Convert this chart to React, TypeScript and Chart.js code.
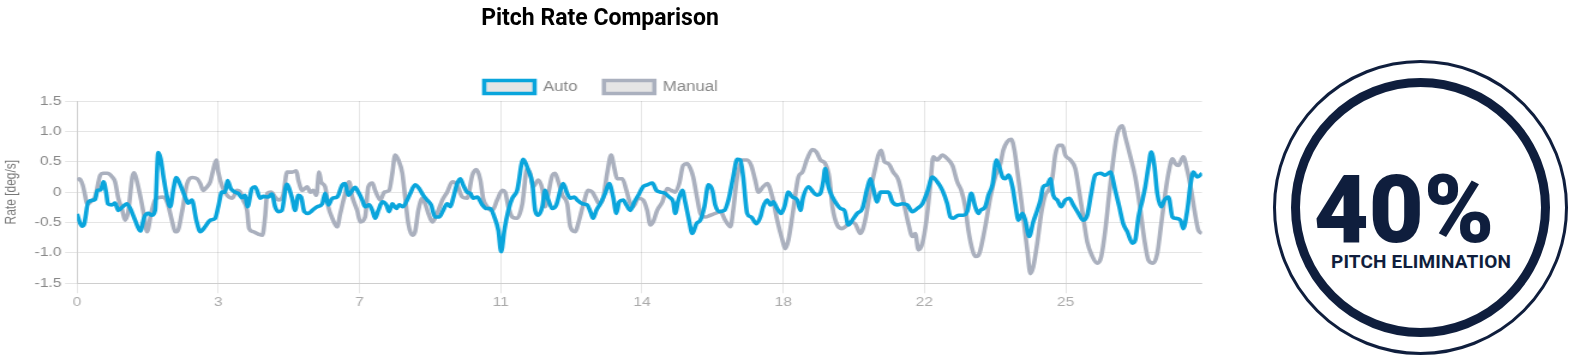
import React, { useEffect, useRef } from 'react';
import { Chart, registerables } from 'chart.js';

Chart.register(...registerables);

const CHART_TITLE = 'Pitch Rate Comparison';
const SERIES_NAMES = ['Auto', 'Manual'];
const Y_TITLE = 'Rate [deg/s]';
const BADGE_VALUE = '40%';
const BADGE_LABEL = 'PITCH ELIMINATION';

const X_MAX = 28.12;
const X_TICK_POS = [0, 3.53, 7.06, 10.59, 14.12, 17.65, 21.18, 24.71];
const X_TICK_LABELS = ['0', '3', '7', '11', '14', '18', '22', '25'];
const Y_TICK_VALUES = [-1.5, -1, -0.5, 0, 0.5, 1, 1.5];
const Y_TICK_LABELS = ['-1.5', '-1.0', '-0.5', '0', '0.5', '1.0', '1.5'];

const AUTO_T = [
  0, 0.12, 0.18, 0.28, 0.45, 0.51, 0.59, 0.66, 0.73, 0.77, 0.87, 0.95, 1.03, 1.14, 1.24, 1.33, 1.45, 1.58, 1.68, 1.78,
  1.87, 1.95, 2.03, 2.09, 2.16, 2.24, 2.33, 2.41, 2.48, 2.58, 2.7, 2.78, 2.87, 2.98, 3.08, 3.2, 3.33, 3.45, 3.53, 3.62,
  3.7, 3.76, 3.84, 3.95, 4.03, 4.12, 4.2, 4.26, 4.37, 4.45, 4.58, 4.66, 4.78, 4.87, 4.95, 5.03, 5.12, 5.24, 5.37, 5.45,
  5.53, 5.6, 5.68, 5.78, 5.88, 6.0, 6.13, 6.2, 6.28, 6.38, 6.5, 6.63, 6.7, 6.78, 6.88, 6.95, 7.03, 7.13, 7.2, 7.3,
  7.38, 7.45, 7.53, 7.63, 7.73, 7.8, 7.88, 7.98, 8.05, 8.15, 8.25, 8.33, 8.45, 8.55, 8.65, 8.75, 8.85, 8.95, 9.05, 9.15,
  9.25, 9.33, 9.4, 9.5, 9.58, 9.65, 9.75, 9.83, 9.9, 10.0, 10.13, 10.23, 10.33, 10.43, 10.53, 10.6, 10.68, 10.78, 10.88, 11.0,
  11.15, 11.28, 11.38, 11.45, 11.53, 11.63, 11.7, 11.78, 11.88, 11.98, 12.08, 12.15, 12.25, 12.33, 12.43, 12.5, 12.63, 12.75, 12.83, 12.9,
  12.98, 13.08, 13.2, 13.3, 13.4, 13.48, 13.55, 13.65, 13.73, 13.83, 13.93, 14.03, 14.15, 14.25, 14.38, 14.48, 14.58, 14.7, 14.8, 14.9,
  14.95, 15.03, 15.13, 15.2, 15.28, 15.38, 15.48, 15.58, 15.68, 15.78, 15.88, 15.95, 16.05, 16.18, 16.28, 16.4, 16.5, 16.58, 16.65, 16.75,
  16.85, 16.98, 17.08, 17.15, 17.25, 17.33, 17.4, 17.5, 17.6, 17.68, 17.78, 17.88, 18.0, 18.08, 18.15, 18.28, 18.4, 18.5, 18.58, 18.65,
  18.7, 18.78, 18.88, 18.98, 19.08, 19.18, 19.28, 19.38, 19.5, 19.63, 19.75, 19.83, 19.9, 20.0, 20.08, 20.18, 20.28, 20.38, 20.5, 20.63,
  20.75, 20.88, 21.0, 21.13, 21.25, 21.38, 21.5, 21.63, 21.75, 21.83, 21.9, 22.03, 22.15, 22.25, 22.35, 22.45, 22.53, 22.58, 22.7, 22.78,
  22.88, 22.98, 23.05, 23.13, 23.2, 23.28, 23.38, 23.45, 23.53, 23.63, 23.7, 23.8, 23.9, 24.0, 24.08, 24.15, 24.25, 24.33, 24.4, 24.5,
  24.6, 24.7, 24.8, 24.9, 25.03, 25.15, 25.25, 25.35, 25.45, 25.58, 25.7, 25.83, 25.95, 26.05, 26.15, 26.25, 26.38, 26.45, 26.53, 26.63,
  26.7, 26.78, 26.85, 26.93, 27.0, 27.1, 27.18, 27.28, 27.38, 27.45, 27.58, 27.65, 27.75, 27.83, 27.9, 28.0, 28.12,
];
const AUTO_V = [
  -0.36, -0.56, -0.52, -0.16, -0.12, 0.03, 0.04, 0.17, -0.02, -0.19, -0.21, -0.18, -0.3, -0.24, -0.19, -0.27, -0.46, -0.64, -0.41, -0.35,
  -0.38, -0.3, 0.65, 0.55, 0.25, -0.05, -0.24, 0.06, 0.24, 0.12, -0.08, -0.18, -0.13, -0.46, -0.65, -0.57, -0.46, -0.43, -0.24, 0.0,
  0.0, 0.19, 0.06, 0.0, -0.02, -0.09, -0.05, -0.24, 0.06, 0.09, -0.1, -0.07, -0.08, -0.03, -0.24, -0.32, -0.3, 0.13, -0.09, -0.3,
  -0.05, -0.08, -0.32, -0.35, -0.3, -0.24, -0.19, -0.02, -0.21, -0.1, -0.08, 0.12, 0.14, -0.05, 0.03, 0.08, 0.0, -0.13, -0.24, -0.21,
  -0.3, -0.43, -0.3, -0.16, -0.21, -0.32, -0.19, -0.27, -0.21, -0.24, -0.13, -0.02, 0.12, 0.06, -0.05, -0.13, -0.21, -0.41, -0.41, -0.3,
  -0.19, -0.24, -0.1, 0.14, 0.22, 0.12, 0.0, -0.02, -0.1, -0.08, -0.21, -0.27, -0.27, -0.41, -0.63, -0.98, -0.63, -0.3, -0.1, 0.03,
  0.54, 0.36, 0.14, -0.3, -0.38, -0.24, 0.03, -0.13, -0.27, -0.21, 0.03, 0.14, -0.02, -0.1, -0.08, -0.13, -0.19, -0.21, -0.32, -0.43,
  -0.3, -0.19, -0.02, 0.14, -0.08, -0.35, -0.16, -0.13, -0.21, -0.3, -0.16, -0.05, 0.09, 0.12, 0.15, 0.03, 0.0, -0.02, -0.08, -0.16,
  -0.35, -0.13, 0.03, -0.16, -0.41, -0.68, -0.52, -0.46, -0.24, 0.12, 0.03, -0.21, -0.32, -0.3, -0.13, 0.25, 0.54, 0.53, 0.25, -0.35,
  -0.41, -0.52, -0.41, -0.24, -0.13, -0.21, -0.16, -0.27, -0.35, -0.24, 0.0, -0.08, -0.13, -0.3, -0.08, 0.09, 0.0, -0.05, -0.02, 0.17,
  0.39, 0.09, -0.08, -0.19, -0.27, -0.3, -0.54, -0.46, -0.35, -0.27, 0.06, 0.22, 0.06, -0.16, 0.0, 0.0, 0.0, -0.16, -0.21, -0.19,
  -0.21, -0.32, -0.27, -0.19, 0.0, 0.25, 0.17, 0.03, -0.19, -0.41, -0.43, -0.38, -0.38, -0.32, -0.02, -0.24, -0.35, -0.3, -0.24, -0.05,
  0.12, 0.53, 0.42, 0.25, 0.22, 0.28, 0.09, -0.19, -0.46, -0.35, -0.46, -0.73, -0.49, -0.3, -0.13, 0.09, 0.12, 0.22, -0.05, -0.13,
  -0.24, -0.13, -0.1, -0.21, -0.35, -0.46, -0.38, -0.02, 0.28, 0.31, 0.28, 0.33, 0.03, -0.24, -0.52, -0.65, -0.84, -0.79, -0.41, -0.13,
  0.09, 0.42, 0.66, 0.42, -0.02, -0.24, -0.13, -0.08, -0.41, -0.43, -0.46, -0.6, -0.3, 0.12, 0.33, 0.25, 0.31,
];

const MANUAL_T = [
  0, 0.06, 0.14, 0.2, 0.25, 0.35, 0.45, 0.58, 0.65, 0.75, 0.88, 0.95, 1.03, 1.13, 1.2, 1.28, 1.38, 1.43, 1.5, 1.6,
  1.68, 1.75, 1.85, 1.95, 2.03, 2.15, 2.25, 2.38, 2.45, 2.5, 2.63, 2.75, 2.88, 3.0, 3.08, 3.15, 3.25, 3.33, 3.4, 3.48,
  3.53, 3.63, 3.75, 3.88, 4.0, 4.08, 4.15, 4.25, 4.3, 4.4, 4.53, 4.63, 4.7, 4.75, 4.85, 4.95, 5.03, 5.15, 5.25, 5.38,
  5.48, 5.53, 5.63, 5.75, 5.83, 5.9, 5.98, 6.05, 6.1, 6.2, 6.28, 6.38, 6.5, 6.58, 6.68, 6.8, 6.88, 7.0, 7.08, 7.2,
  7.28, 7.38, 7.45, 7.58, 7.68, 7.8, 7.88, 7.95, 8.03, 8.13, 8.2, 8.28, 8.38, 8.45, 8.53, 8.63, 8.7, 8.78, 8.88, 9.0,
  9.13, 9.25, 9.38, 9.5, 9.63, 9.75, 9.88, 9.98, 10.08, 10.15, 10.25, 10.38, 10.5, 10.63, 10.7, 10.78, 10.88, 11.0, 11.13, 11.25,
  11.33, 11.4, 11.53, 11.63, 11.7, 11.78, 11.88, 11.95, 12.03, 12.13, 12.25, 12.33, 12.45, 12.55, 12.65, 12.78, 12.88, 12.95, 13.05, 13.15,
  13.25, 13.35, 13.43, 13.5, 13.63, 13.73, 13.83, 13.9, 14.03, 14.15, 14.25, 14.33, 14.4, 14.5, 14.63, 14.75, 14.85, 14.95, 15.05, 15.15,
  15.25, 15.33, 15.4, 15.5, 15.58, 15.7, 15.83, 15.95, 16.08, 16.2, 16.33, 16.4, 16.5, 16.63, 16.75, 16.85, 16.95, 17.03, 17.15, 17.25,
  17.38, 17.5, 17.63, 17.7, 17.78, 17.9, 18.03, 18.13, 18.25, 18.38, 18.48, 18.58, 18.7, 18.8, 18.88, 19.0, 19.13, 19.2, 19.33, 19.45,
  19.58, 19.7, 19.83, 19.95, 20.03, 20.1, 20.18, 20.28, 20.4, 20.53, 20.65, 20.78, 20.88, 20.95, 21.03, 21.13, 21.23, 21.33, 21.4, 21.5,
  21.63, 21.75, 21.88, 22.0, 22.1, 22.2, 22.28, 22.38, 22.45, 22.53, 22.58, 22.7, 22.83, 22.95, 23.08, 23.15, 23.25, 23.35, 23.43, 23.5,
  23.6, 23.68, 23.75, 23.83, 23.9, 24.0, 24.1, 24.2, 24.28, 24.38, 24.45, 24.53, 24.63, 24.7, 24.83, 24.95, 25.03, 25.15, 25.25, 25.38,
  25.5, 25.6, 25.7, 25.8, 25.9, 26.0, 26.13, 26.2, 26.33, 26.45, 26.58, 26.68, 26.78, 26.9, 27.0, 27.1, 27.2, 27.28, 27.38, 27.45,
  27.53, 27.65, 27.75, 27.85, 27.93, 28.03, 28.12,
];
const MANUAL_V = [
  0.2, 0.22, 0.12, -0.05, -0.2, -0.15, -0.08, 0.28, 0.31, 0.31, 0.25, 0.17, -0.1, -0.3, -0.46, -0.32, 0.25, 0.32, 0.17, -0.13,
  -0.41, -0.65, -0.35, -0.13, -0.09, -0.08, -0.16, -0.49, -0.65, -0.65, -0.3, 0.14, 0.24, 0.22, 0.14, 0.03, 0.09, 0.17, 0.36, 0.53,
  0.33, 0.09, -0.05, -0.1, 0.03, 0.0, -0.13, -0.3, -0.6, -0.65, -0.69, -0.71, -0.41, -0.02, 0.0, -0.08, -0.13, -0.05, 0.33, 0.33,
  0.35, 0.2, 0.03, 0.09, 0.0, 0.03, -0.05, 0.33, 0.17, 0.09, -0.24, -0.43, -0.57, -0.35, -0.08, 0.17, -0.08, -0.3, -0.49, -0.41,
  0.09, 0.15, 0.03, -0.13, 0.0, 0.03, 0.31, 0.61, 0.53, 0.31, -0.08, -0.52, -0.71, -0.65, -0.3, -0.1, -0.19, -0.35, -0.49, -0.35,
  -0.13, 0.0, 0.17, 0.12, -0.08, -0.1, 0.28, 0.37, 0.2, -0.1, -0.24, -0.3, -0.13, 0.03, 0.0, -0.24, -0.41, -0.43, -0.19, 0.39,
  0.3, 0.09, 0.2, 0.05, -0.24, -0.02, 0.28, 0.31, 0.17, -0.05, -0.19, -0.57, -0.65, -0.46, -0.21, 0.03, 0.0, -0.08, -0.19, -0.1,
  0.31, 0.61, 0.39, 0.22, 0.22, 0.03, -0.19, -0.24, -0.1, -0.13, -0.3, -0.54, -0.49, -0.3, -0.16, 0.06, 0.03, 0.0, 0.14, 0.44,
  0.47, 0.39, 0.25, -0.1, -0.35, -0.41, -0.38, -0.35, -0.32, -0.46, -0.57, -0.3, 0.25, 0.53, 0.53, 0.44, 0.2, 0.0, 0.09, 0.14,
  -0.08, -0.46, -0.79, -0.93, -0.79, -0.3, 0.25, 0.33, 0.55, 0.7, 0.66, 0.53, 0.47, 0.25, -0.24, -0.54, -0.6, -0.57, -0.49, -0.52,
  -0.68, -0.46, 0.03, 0.39, 0.61, 0.69, 0.5, 0.47, 0.33, 0.2, -0.13, -0.52, -0.73, -0.68, -0.95, -0.84, -0.46, 0.14, 0.58, 0.53,
  0.61, 0.55, 0.44, 0.17, 0.03, -0.24, -0.63, -0.95, -1.06, -1.04, -0.95, -0.57, -0.08, 0.25, 0.47, 0.69, 0.83, 0.87, 0.69, 0.36,
  -0.13, -0.57, -0.95, -1.34, -1.23, -0.84, -0.35, -0.05, 0.03, 0.25, 0.61, 0.77, 0.77, 0.61, 0.53, 0.39, 0.09, -0.41, -0.82, -1.06,
  -1.17, -1.06, -0.63, -0.02, 0.53, 0.96, 1.09, 0.91, 0.58, 0.25, -0.3, -0.79, -1.12, -1.17, -1.01, -0.52, -0.02, 0.31, 0.55, 0.47,
  0.44, 0.58, 0.36, 0.03, -0.3, -0.63, -0.68,
];

const SX = 1.2;
const W0 = 1003;
const H0 = 330;
const FONT = "'Liberation Sans', Arial, Helvetica, sans-serif";
const NAVY = '#0f1e3d';

function toPoints(t: number[], v: number[]) {
  return t.map((x, i) => ({ x, y: v[i] }));
}

function PitchChart() {
  const ref = useRef<HTMLCanvasElement | null>(null);
  useEffect(() => {
    if (!ref.current) return;
    const chart = new Chart(ref.current, {
      type: 'line',
      data: {
        datasets: [
          {
            label: SERIES_NAMES[0],
            data: toPoints(AUTO_T, AUTO_V),
            borderColor: '#0aa5dc',
            backgroundColor: 'rgba(0,0,0,0.1)',
            borderWidth: 3.6,
            pointRadius: 0,
            fill: false,
            cubicInterpolationMode: 'monotone',
          },
          {
            label: SERIES_NAMES[1],
            data: toPoints(MANUAL_T, MANUAL_V),
            borderColor: '#aab0be',
            backgroundColor: 'rgba(0,0,0,0.1)',
            borderWidth: 3.6,
            pointRadius: 0,
            fill: false,
            cubicInterpolationMode: 'monotone',
          },
        ],
      },
      options: {
        responsive: false,
        animation: false,
        devicePixelRatio: 1,
        layout: { padding: { top: 58, right: 1.3, bottom: 16.7, left: 0 } },
        plugins: {
          legend: {
            display: true,
            position: 'top',
            maxHeight: 43,
            labels: {
              boxWidth: 42,
              boxHeight: 13,
              padding: 22,
              color: '#888',
              font: { size: 14, family: FONT },
            },
          },
          title: { display: false },
          tooltip: { enabled: false },
        },
        scales: {
          x: {
            type: 'linear',
            min: 0,
            max: X_MAX,
            afterBuildTicks: (axis: any) => {
              axis.ticks = X_TICK_POS.map((v) => ({ value: v }));
            },
            afterFit: (axis: any) => {
              axis.height = 30;
            },
            ticks: {
              autoSkip: false,
              maxRotation: 0,
              padding: 1,
              color: '#aaa',
              font: { size: 13, family: FONT },
              callback: (_v: any, i: number) => X_TICK_LABELS[i],
            },
            grid: { color: 'rgba(0,0,0,0.1)', tickLength: 10 },
            border: { color: 'rgba(0,0,0,0.1)' },
          },
          y: {
            min: -1.5,
            max: 1.5,
            afterBuildTicks: (axis: any) => {
              axis.ticks = Y_TICK_VALUES.map((v) => ({ value: v }));
            },
            afterFit: (axis: any) => {
              axis.width = 64.2;
            },
            ticks: {
              padding: 3,
              color: '#888',
              font: { size: 13, family: FONT },
              callback: (_v: any, i: number) => Y_TICK_LABELS[i],
            },
            grid: { color: 'rgba(0,0,0,0.1)', tickLength: 10 },
            border: { color: 'rgba(0,0,0,0.1)' },
            title: {
              display: true,
              text: Y_TITLE,
              color: '#777',
              font: { size: 12, family: FONT },
              padding: { top: 2, bottom: 1 },
            },
          },
        },
      },
    } as any);
    return () => chart.destroy();
  }, []);
  return (
    <div
      style={{
        position: 'absolute',
        left: 0,
        top: 0,
        width: W0,
        height: H0,
        transform: `scaleX(${SX})`,
        transformOrigin: '0 0',
      }}
    >
      <canvas ref={ref} width={W0} height={H0} style={{ width: W0, height: H0, display: 'block' }} />
    </div>
  );
}

export default function App() {
  return (
    <div style={{ position: 'absolute', left: 0, top: 0, width: 1582, height: 362, background: '#fff', overflow: 'hidden' }}>
      <PitchChart />
      <div
        style={{
          position: 'absolute',
          left: 300,
          top: 6,
          width: 600,
          textAlign: 'center',
          fontFamily: 'Roboto, sans-serif',
          fontWeight: 700,
          fontSize: 23,
          lineHeight: '23px',
          color: '#000',
          whiteSpace: 'nowrap',
        }}
      >
        {CHART_TITLE}
      </div>
      <div
        style={{
          position: 'absolute',
          left: 1272.5,
          top: 60,
          width: 295,
          height: 295,
          borderRadius: '50%',
          border: `3px solid ${NAVY}`,
          boxSizing: 'border-box',
        }}
      />
      <div
        style={{
          position: 'absolute',
          left: 1290.5,
          top: 78,
          width: 259,
          height: 259,
          borderRadius: '50%',
          border: `9px solid ${NAVY}`,
          boxSizing: 'border-box',
        }}
      />
      <div
        style={{
          position: 'absolute',
          left: 1254,
          top: 162,
          width: 300,
          textAlign: 'center',
          fontFamily: 'Roboto, sans-serif',
          fontWeight: 900,
          fontSize: 95,
          lineHeight: '95px',
          color: NAVY,
          whiteSpace: 'nowrap',
        }}
      >
        {BADGE_VALUE}
      </div>
      <div
        style={{
          position: 'absolute',
          left: 1271,
          top: 252,
          width: 300,
          textAlign: 'center',
          fontFamily: 'Roboto, sans-serif',
          fontWeight: 700,
          fontSize: 19,
          lineHeight: '19px',
          color: NAVY,
          whiteSpace: 'nowrap',
          letterSpacing: 0.15,
        }}
      >
        {BADGE_LABEL}
      </div>
    </div>
  );
}
